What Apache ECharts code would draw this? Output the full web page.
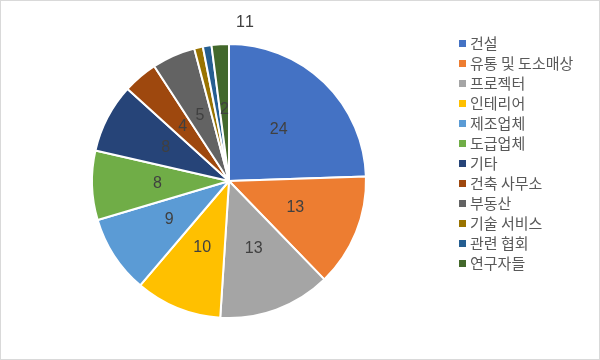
<!DOCTYPE html>
<html><head><meta charset="utf-8">
<script src="https://cdn.jsdelivr.net/npm/echarts@6/dist/echarts.min.js"></script>
<style>html,body{margin:0;padding:0;background:#fff}#c{width:598px;height:358px;border:1px solid #d9d9d9}</style>
</head><body><div id="c"></div>
<script>
const categories = ['건설','유통 및 도소매상','프로젝터','인테리어','제조업체','도급업체','기타','건축 사무소','부동산','기술 서비스','관련 협회','연구자들'];
const values = [24,13,13,10,9,8,8,4,5,1,1,2];
const colors = ['#4472C4','#ED7D31','#A5A5A5','#FFC000','#5B9BD5','#70AD47','#264478','#9E480E','#636363','#997300','#255E91','#43682B'];
const font = '"Noto Sans CJK KR", "Noto Sans", sans-serif';
const numFont = '"Liberation Sans", Arial, sans-serif';
const smallLabelPos = {9:[235,14], 10:[244,14]};
const data = categories.map((n,i)=>({name:n,value:values[i],
  label: values[i]===1 ? {position:'outside', distance:4} : undefined
}));
const chart = echarts.init(document.getElementById('c'));
chart.setOption({
  animation:false,
  color: colors,
  legend:{orient:'vertical', left:451, top:30, itemWidth:9, itemHeight:9, itemGap:5,
    icon:'rect', textStyle:{fontFamily:font, fontSize:15, lineHeight:15, color:'#595959', padding:[0,0,0,-2]}},
  series:[{type:'pie', center:[228,180], radius:[0,137], startAngle:90, clockwise:true,
    itemStyle:{borderColor:'#fff', borderWidth:2},
    label:{show:true, position:'inside', formatter:'{c}', fontFamily:numFont, fontSize:16, color:'#404040'},
    labelLine:{show:false},
    labelLayout: function(p){
      const pos = smallLabelPos[p.dataIndex];
      if (pos) return {x:pos[0], y:pos[1], align:'left', verticalAlign:'top'};
      return {};
    },
    data:data}]
});
</script></body></html>
